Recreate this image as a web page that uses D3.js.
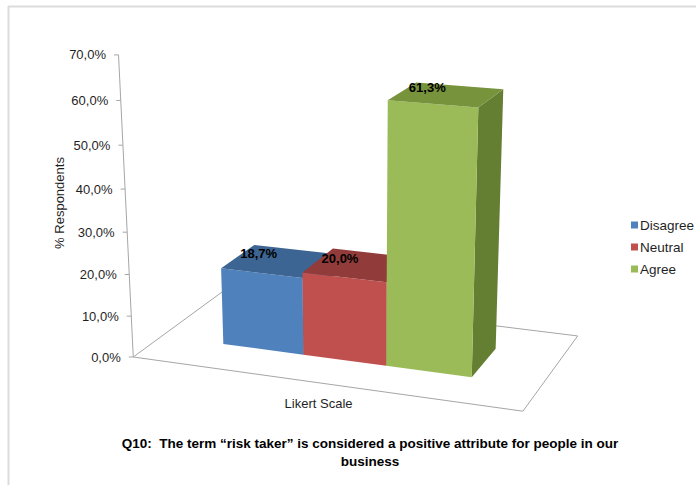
<!DOCTYPE html>
<html><head><meta charset="utf-8">
<script src="https://cdn.jsdelivr.net/npm/d3@7"></script>
<style>
body{margin:0;background:#fff}
svg{display:block}
text{font-family:"Liberation Sans",Arial,sans-serif}
</style>
</head><body>
<script>
// ---- data ----
const categories = ["Likert Scale"];
const seriesNames = ["Disagree", "Neutral", "Agree"];
const seriesValues = [18.7, 20.0, 61.3];
const valueTicks = [0, 10, 20, 30, 40, 50, 60, 70];
const axisTitle = "% Respondents";
const titleLines = [
  "Q10:  The term \u201crisk taker\u201d is considered a positive attribute for people in our",
  "business"
];

// ---- styles ----
const faceColors = {
  Disagree: {front: "#4F81BD", top: "#3D6593", side: "#3A5F8C"},
  Neutral:  {front: "#C0504D", top: "#913C3A", side: "#8C3936"},
  Agree:    {front: "#9BBB59", top: "#77933C", side: "#647E32"}
};
const legendColors = {Disagree: "#4F81BD", Neutral: "#C0504D", Agree: "#9BBB59"};

const W = 696, H = 485;
const svg = d3.select("body").append("svg").attr("width", W).attr("height", H);

// frame
svg.append("line").attr("x1", 8).attr("x2", W).attr("y1", 6.5).attr("y2", 6.5)
  .attr("stroke", "#dcdcdc").attr("stroke-width", 2);
svg.append("line").attr("x1", 8.5).attr("x2", 8.5).attr("y1", 6).attr("y2", H)
  .attr("stroke", "#dcdcdc").attr("stroke-width", 2);

// ---- 3D view: yaw/pitch camera with mild perspective ----
const deg = Math.PI / 180;
const yaw = 20.3 * deg, pitch = 20.7 * deg;
const focal = 1750, camDist = 1750;
const cx = 359, cy = 346.3;
const halfW = 198, halfD = 105;      // floor half extents (world units)
const barHalfDepth = 41;

const yScale = d3.scaleLinear().domain([0, 70]).range([0, 299]);
const xScale = d3.scaleBand().domain(seriesNames).range([-130, 130]).padding(0);

function project(px, py, pz) {
  const xr = px * Math.cos(yaw) - pz * Math.sin(yaw);
  const zr = pz * Math.cos(yaw) + px * Math.sin(yaw);
  const yc = py * Math.cos(pitch) - zr * Math.sin(pitch);
  const zc = zr * Math.cos(pitch) + py * Math.sin(pitch);
  const s = focal / (camDist - zc);
  return [cx + s * xr, cy - s * yc];
}
const poly = pts => "M" + pts.map(p => project(...p).map(v => v.toFixed(2)).join(",")).join("L") + "Z";

// floor outline
svg.append("path")
  .attr("d", poly([[-halfW, 0, halfD], [halfW, 0, halfD], [halfW, 0, -halfD], [-halfW, 0, -halfD]]))
  .attr("fill", "none").attr("stroke", "#a6a6a6").attr("stroke-width", 1);

// value axis at front-left corner
const axisG = svg.append("g");
const a0 = project(-halfW, yScale(0), halfD), a1 = project(-halfW, yScale(70), halfD);
axisG.append("line").attr("x1", a0[0]).attr("y1", a0[1]).attr("x2", a1[0]).attr("y2", a1[1])
  .attr("stroke", "#a6a6a6").attr("stroke-width", 1);
const pctFmt = d3.formatLocale({decimal: ",", thousands: ".", grouping: [3], currency: ["", ""]}).format(".1f");
valueTicks.forEach(t => {
  const p = project(-halfW, yScale(t), halfD);
  axisG.append("line").attr("x1", p[0] - 4.5).attr("x2", p[0]).attr("y1", p[1]).attr("y2", p[1])
    .attr("stroke", "#a6a6a6");
  axisG.append("text").attr("x", p[0] - 12.5).attr("y", p[1]).attr("dy", "0.35em")
    .attr("text-anchor", "end").attr("font-size", 13).attr("fill", "#1f1f1f")
    .text(pctFmt(t) + "%");
});

// axis title
svg.append("text").attr("transform", "translate(64,203) rotate(-90)")
  .attr("text-anchor", "middle").attr("font-size", 13).attr("fill", "#1f1f1f")
  .text(axisTitle);

// category label below front edge
const catPos = project(0, 0, halfD);
svg.append("text").attr("x", catPos[0] - 2).attr("y", catPos[1] + 20).attr("dy", "0.35em")
  .attr("text-anchor", "middle").attr("font-size", 13).attr("fill", "#1f1f1f")
  .text(categories[0]);

// bars (drawn left to right so nearer ones overlap)
const barsG = svg.append("g");
seriesNames.forEach((name, i) => {
  const v = seriesValues[i];
  const x0 = xScale(name), x1 = x0 + xScale.bandwidth();
  const h = yScale(v), zf = barHalfDepth, zb = -barHalfDepth;
  const c = faceColors[name];
  const g = barsG.append("g");
  g.append("path").attr("d", poly([[x1, 0, zf], [x1, 0, zb], [x1, h, zb], [x1, h, zf]])).attr("fill", c.side);
  g.append("path").attr("d", poly([[x0, 0, zf], [x1, 0, zf], [x1, h, zf], [x0, h, zf]])).attr("fill", c.front);
  g.append("path").attr("d", poly([[x0, h, zf], [x1, h, zf], [x1, h, zb], [x0, h, zb]])).attr("fill", c.top);
});

// value labels
seriesNames.forEach((name, i) => {
  const v = seriesValues[i];
  const xm = xScale(name) + xScale.bandwidth() / 2;
  const p = project(xm, yScale(v), 0);
  svg.append("text").attr("x", p[0] - 19).attr("y", p[1] - 7).attr("dy", "0.35em")
    .attr("text-anchor", "middle").attr("font-size", 13).attr("font-weight", "bold")
    .attr("fill", "#000").text(pctFmt(v) + "%");
});

// legend
const legend = svg.append("g").attr("transform", "translate(631,225)");
seriesNames.forEach((name, i) => {
  const g = legend.append("g").attr("transform", `translate(0,${i * 22})`);
  g.append("rect").attr("x", 0).attr("y", -3.5).attr("width", 7).attr("height", 7).attr("fill", legendColors[name]);
  g.append("text").attr("x", 9).attr("y", 0).attr("dy", "0.35em").attr("font-size", 13.5)
    .attr("fill", "#1f1f1f").text(name);
});

// chart title
const title = svg.append("text").attr("text-anchor", "middle").attr("font-size", 13.5)
  .attr("font-weight", "bold").attr("fill", "#000").style("white-space", "pre");
titleLines.forEach((line, i) => {
  title.append("tspan").attr("x", 370).attr("y", 443 + i * 18.5).attr("dy", "0.35em").text(line);
});
</script>
</body></html>
